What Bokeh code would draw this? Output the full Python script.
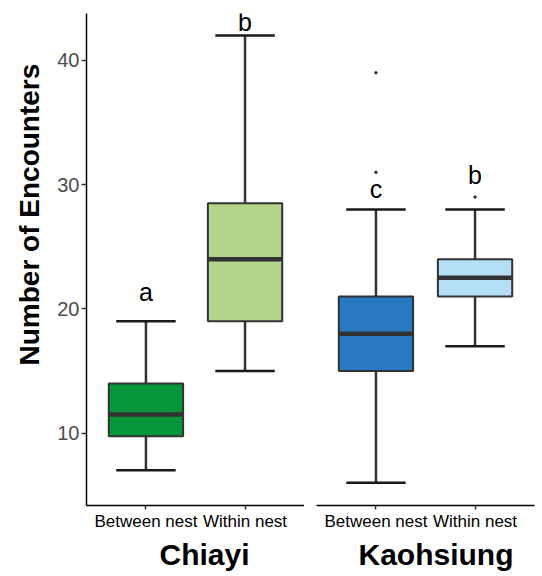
from bokeh.plotting import figure
from bokeh.layouts import row
from bokeh.models import Range1d, FixedTicker, Title, ColumnDataSource
from bokeh.embed import file_html
from bokeh.resources import INLINE

# ---- data ----
sites = ["Chiayi", "Kaohsiung"]
nest_types = ["Between nest", "Within nest"]
site_of_box = ["Chiayi", "Chiayi", "Kaohsiung", "Kaohsiung"]
nest_of_box = ["Between nest", "Within nest", "Between nest", "Within nest"]
lower_whisker = [7, 15, 6, 17]
q1 = [9.75, 19, 15, 21]
median = [11.5, 24, 18, 22.5]
q3 = [14, 28.5, 21, 24]
upper_whisker = [19, 42, 28, 28]
outlier_site = ["Kaohsiung", "Kaohsiung", "Kaohsiung"]
outlier_nest = ["Between nest", "Between nest", "Within nest"]
outlier_value = [31, 39, 29]
sig_letters = ["a", "b", "c", "b"]
sig_y = [20.8, 42.5, 29.1, 30.2]
box_colors = ["#05973A", "#B2D48B", "#2878C2", "#B3E0F6"]
y_ticks = [10, 20, 30, 40]

FONT = "Liberation Sans"
DARK = "#333333"

y_range = Range1d(4.17, 43.78)
site_label_offset = {"Chiayi": 73, "Kaohsiung": 42}


def make_panel(site, first):
    kw = dict(
        width=304 if first else 238,
        height=576,
        x_range=Range1d(0.4, 2.6),
        y_range=y_range,
        output_backend="svg",
        toolbar_location=None,
        min_border_left=86 if first else 12,
        min_border_right=0 if first else 8,
        min_border_top=13,
        min_border_bottom=71,
    )
    if not first:
        kw["y_axis_location"] = None
    p = figure(**kw)
    p.outline_line_color = None
    p.xgrid.visible = False
    p.ygrid.visible = False

    idx = [i for i, s in enumerate(site_of_box) if s == site]
    xs = [nest_types.index(nest_of_box[i]) + 1 for i in idx]
    src = ColumnDataSource(dict(
        x=xs,
        lw=[lower_whisker[i] for i in idx],
        q1=[q1[i] for i in idx],
        med=[median[i] for i in idx],
        q3=[q3[i] for i in idx],
        uw=[upper_whisker[i] for i in idx],
        color=[box_colors[i] for i in idx],
        x0=[x - 0.375 for x in xs],
        x1=[x + 0.375 for x in xs],
        c0=[x - 0.3 for x in xs],
        c1=[x + 0.3 for x in xs],
        letter=[sig_letters[i] for i in idx],
        ly=[sig_y[i] for i in idx],
    ))
    # whiskers
    p.segment(x0="x", y0="q3", x1="x", y1="uw", source=src, line_color=DARK, line_width=2.5)
    p.segment(x0="x", y0="q1", x1="x", y1="lw", source=src, line_color=DARK, line_width=2.5)
    # caps
    p.segment(x0="c0", y0="uw", x1="c1", y1="uw", source=src, line_color="#1A1A1A", line_width=2.5)
    p.segment(x0="c0", y0="lw", x1="c1", y1="lw", source=src, line_color="#1A1A1A", line_width=2.5)
    # boxes
    p.vbar(x="x", width=0.75, bottom="q1", top="q3", source=src,
           fill_color="color", line_color=DARK, line_width=2)
    # medians
    p.segment(x0="x0", y0="med", x1="x1", y1="med", source=src, line_color=DARK, line_width=4.5)
    # outliers
    oi = [i for i, s in enumerate(outlier_site) if s == site]
    if oi:
        p.scatter(x=[nest_types.index(outlier_nest[i]) + 1 for i in oi],
                  y=[outlier_value[i] for i in oi], size=2.5,
                  fill_color=DARK, line_color=DARK)
    # significance letters
    p.text(x="x", y="ly", text="letter", source=src, text_align="center",
           text_baseline="alphabetic", text_font_size="25px", text_color="black",
           text_font={"value": FONT}, y_offset=-7)

    xa = p.xaxis[0]
    xa.ticker = FixedTicker(ticks=[1, 2])
    xa.major_label_overrides = {1: nest_types[0], 2: nest_types[1]}
    xa.minor_tick_line_color = None
    xa.major_tick_in = 0
    xa.major_tick_out = 4
    xa.major_tick_line_color = DARK
    xa.major_tick_line_width = 1.5
    xa.axis_line_color = "black"
    xa.axis_line_width = 1.5
    xa.major_label_text_font = FONT
    xa.major_label_text_font_size = "17px"
    xa.major_label_text_color = "black"
    xa.major_label_standoff = 2

    p.add_layout(Title(text=site, align="left", offset=site_label_offset[site],
                       text_font=FONT, text_font_size="30px", text_font_style="bold",
                       text_color="black", standoff=4), "below")

    if first:
        ya = p.yaxis[0]
        ya.ticker = FixedTicker(ticks=y_ticks)
        ya.minor_tick_line_color = None
        ya.major_tick_in = 0
        ya.major_tick_out = 5
        ya.major_tick_line_color = DARK
        ya.major_tick_line_width = 1.5
        ya.axis_line_color = "black"
        ya.axis_line_width = 1.5
        ya.major_label_text_font = FONT
        ya.major_label_text_font_size = "20px"
        ya.major_label_text_color = "#4D4D4D"
        ya.major_label_standoff = 2
        p.add_layout(Title(text="Number of Encounters", align="left", offset=140,
                           text_font=FONT, text_font_size="28px", text_font_style="bold",
                           text_color="black", standoff=20), "left")
    return p


p1 = make_panel(sites[0], True)
p2 = make_panel(sites[1], False)
layout = row(p1, p2)
open("out.html", "w").write(file_html(layout, INLINE))
